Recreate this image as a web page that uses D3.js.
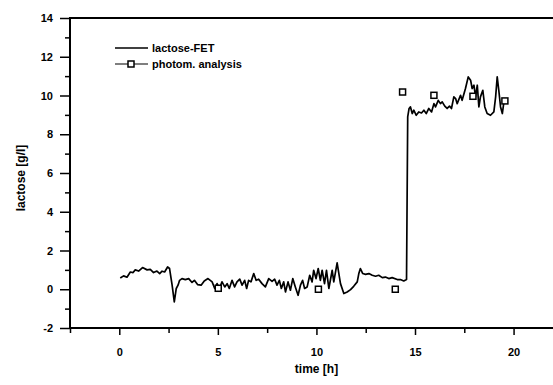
<!DOCTYPE html>
<html>
<head>
<meta charset="utf-8">
<script src="https://cdn.jsdelivr.net/npm/d3@7"></script>
<style>
  body { margin: 0; background: #fff; }
  svg { display: block; font-family: "Liberation Sans", Arial, sans-serif; font-weight: bold; }
</style>
</head>
<body>
<div id="chart"></div>
<script>
// lactose-FET trace, time [h] and lactose [g/l]
var fetTime = [0.05, 0.22, 0.39, 0.56, 0.70, 0.81, 0.98, 1.18, 1.41, 1.57, 1.74, 1.91, 2.05, 2.17, 2.30, 2.45, 2.55, 2.68, 2.79, 2.89,
  2.98, 3.06, 3.18, 3.35, 3.52, 3.69, 3.81, 3.97, 4.15, 4.31, 4.50, 4.71, 4.84, 4.96, 5.08, 5.21, 5.35, 5.47, 5.58, 5.72,
  5.85, 5.97, 6.11, 6.23, 6.36, 6.46, 6.56, 6.68, 6.82, 6.94, 7.07, 7.24, 7.41, 7.58, 7.75, 7.88, 8.00, 8.12, 8.22, 8.34,
  8.43, 8.56, 8.68, 8.80, 8.93, 9.07, 9.19, 9.30, 9.40, 9.53, 9.66, 9.78, 9.86, 9.98, 10.09, 10.20, 10.29, 10.41, 10.51, 10.63,
  10.80, 10.88, 11.05, 11.22, 11.39, 11.56, 11.73, 11.89, 12.07, 12.15, 12.23, 12.35, 12.49, 12.66, 12.83, 13.00, 13.16, 13.34, 13.50, 13.67,
  13.84, 14.10, 14.26, 14.43, 14.57, 14.63, 14.70, 14.77, 14.86, 14.94, 15.06, 15.19, 15.33, 15.45, 15.57, 15.70, 15.84, 15.96, 16.04, 16.18,
  16.29, 16.38, 16.51, 16.63, 16.75, 16.85, 16.97, 17.06, 17.14, 17.31, 17.39, 17.56, 17.70, 17.82, 17.90, 17.99, 18.07, 18.16, 18.24, 18.32,
  18.44, 18.54, 18.66, 18.83, 19.00, 19.09, 19.17, 19.25, 19.34, 19.43, 19.51];
var fetLactose = [0.58, 0.69, 0.62, 0.89, 0.86, 1.00, 0.94, 1.12, 1.00, 1.03, 0.86, 0.94, 0.81, 0.93, 0.89, 1.15, 1.07, 0.21, -0.65, 0.04,
  0.21, 0.46, 0.55, 0.50, 0.55, 0.35, 0.46, 0.24, 0.21, 0.43, 0.55, 0.38, 0.04, 0.29, 0.04, 0.38, 0.12, 0.29, 0.04, 0.46,
  0.12, 0.38, 0.52, 0.21, 0.46, 0.04, 0.46, 0.38, 0.81, 0.46, 0.52, 0.29, 0.12, 0.55, 0.41, 0.52, 0.21, 0.46, 0.04, 0.38,
  -0.14, 0.38, -0.05, 0.55, 0.12, -0.31, 0.21, 0.46, 0.04, 0.12, 0.72, 0.38, 0.98, 0.55, 1.07, 0.46, 0.98, 0.29, 0.98, 0.04,
  0.98, 0.38, 1.36, 0.29, -0.22, -0.14, -0.02, 0.15, 0.38, 0.81, 1.07, 0.81, 0.77, 0.81, 0.72, 0.67, 0.72, 0.60, 0.63, 0.55,
  0.60, 0.50, 0.50, 0.43, 0.50, 8.9, 9.33, 9.41, 9.07, 9.24, 8.98, 9.15, 9.10, 9.24, 9.07, 9.33, 9.15, 9.58, 9.41, 9.75,
  9.58, 9.67, 9.45, 9.33, 9.45, 9.33, 9.93, 9.84, 9.58, 10.01, 9.75, 10.36, 10.96, 10.79, 10.36, 10.53, 9.93, 10.53, 9.41, 9.93,
  10.27, 9.41, 9.07, 8.98, 9.15, 9.93, 10.96, 10.27, 9.41, 9.07, 9.67];

// photometric analysis samples
var photTime = [5.02, 10.1, 14.0, 14.37, 15.96, 17.94, 19.56];
var photLactose = [0.05, 0.0, 0.0, 10.18, 10.01, 9.96, 9.72];

var xMajor = [0, 5, 10, 15, 20];
var xMinor = [-2.5, 2.5, 7.5, 12.5, 17.5];
var yMajor = [-2, 0, 2, 4, 6, 8, 10, 12, 14];
var yMinor = [-1, 1, 3, 5, 7, 9, 11, 13];

var legendLabels = ["lactose-FET", "photom. analysis"];

var W = 553, H = 385;
var svg = d3.select("#chart").append("svg")
    .attr("width", W)
    .attr("height", H);

var x = d3.scaleLinear().domain([-2.5, 22]).range([70, 553]);
var y = d3.scaleLinear().domain([-2, 14]).range([328, 18]);
var plain = function(d) { return String(d); };

// x axis
svg.append("g")
    .attr("transform", "translate(0," + y(-2) + ")")
    .call(d3.axisBottom(x).tickValues(xMinor).tickSize(5).tickSizeOuter(0).tickFormat(""))
    .call(function(g) { g.select(".domain").remove(); });
var xAx = svg.append("g")
    .attr("transform", "translate(0," + y(-2) + ")")
    .call(d3.axisBottom(x).tickValues(xMajor).tickSize(7).tickPadding(13).tickSizeOuter(0).tickFormat(plain));
xAx.select(".domain").remove();

// y axis
svg.append("g")
    .attr("transform", "translate(" + x(-2.5) + ",0)")
    .call(d3.axisLeft(y).tickValues(yMinor).tickSize(5).tickSizeOuter(0).tickFormat(""))
    .call(function(g) { g.select(".domain").remove(); });
var yAx = svg.append("g")
    .attr("transform", "translate(" + x(-2.5) + ",0)")
    .call(d3.axisLeft(y).tickValues(yMajor).tickSize(10).tickPadding(7).tickSizeOuter(0).tickFormat(plain));
yAx.select(".domain").remove();

svg.selectAll(".tick line").attr("stroke", "#000").attr("stroke-width", 1.5);
svg.selectAll(".tick text")
    .attr("fill", "#000")
    .style("font-size", "11px")
    .style("font-weight", "bold")
    .style("font-family", "'Liberation Sans', Arial, sans-serif");

// frame lines: left, bottom, top
svg.append("line").attr("x1", x(-2.5)).attr("x2", x(-2.5)).attr("y1", y(-2) + 1).attr("y2", y(14) - 1)
    .attr("stroke", "#000").attr("stroke-width", 2);
svg.append("line").attr("x1", x(-2.5)).attr("x2", W).attr("y1", y(-2)).attr("y2", y(-2))
    .attr("stroke", "#000").attr("stroke-width", 2);
svg.append("line").attr("x1", x(-2.5)).attr("x2", W).attr("y1", y(14)).attr("y2", y(14))
    .attr("stroke", "#000").attr("stroke-width", 2);

// FET line
var line = d3.line()
    .x(function(d) { return x(d[0]); })
    .y(function(d) { return y(d[1]); });
var fetData = fetTime.map(function(t, i) { return [t, fetLactose[i]]; });
svg.append("path")
    .datum(fetData)
    .attr("d", line)
    .attr("fill", "none")
    .attr("stroke", "#000")
    .attr("stroke-width", 1.7)
    .attr("stroke-linejoin", "round");

// photometric squares
var photData = photTime.map(function(t, i) { return [t, photLactose[i]]; });
svg.append("g").selectAll("rect")
    .data(photData)
    .enter().append("rect")
      .attr("x", function(d) { return x(d[0]) - 3; })
      .attr("y", function(d) { return y(d[1]) - 3; })
      .attr("width", 6)
      .attr("height", 6)
      .attr("fill", "#fff")
      .attr("stroke", "#000")
      .attr("stroke-width", 1.5);

// axis titles
svg.append("text")
    .attr("x", (x(-2.5) + W) / 2 + 5)
    .attr("y", 373)
    .attr("text-anchor", "middle")
    .style("font-size", "12px")
    .text("time [h]");
svg.append("text")
    .attr("transform", "translate(25," + 178 + ") rotate(-90)")
    .attr("text-anchor", "middle")
    .style("font-size", "12px")
    .text("lactose [g/l]");

// legend
var legend = svg.append("g").attr("transform", "translate(115,48)");
legend.append("line").attr("x1", 0).attr("x2", 33).attr("y1", 0).attr("y2", 0)
    .attr("stroke", "#000").attr("stroke-width", 1.7);
legend.append("line").attr("x1", 0).attr("x2", 33).attr("y1", 16).attr("y2", 16)
    .attr("stroke", "#000").attr("stroke-width", 1.2);
legend.append("rect").attr("x", 13).attr("y", 13).attr("width", 6).attr("height", 6)
    .attr("fill", "#fff").attr("stroke", "#000").attr("stroke-width", 1.5);
legend.selectAll("text.lab")
    .data(legendLabels)
    .enter().append("text")
      .attr("class", "lab")
      .attr("x", 37)
      .attr("y", function(d, i) { return i * 16 + 4; })
      .style("font-size", "11px")
      .text(function(d) { return d; });
</script>
</body>
</html>
